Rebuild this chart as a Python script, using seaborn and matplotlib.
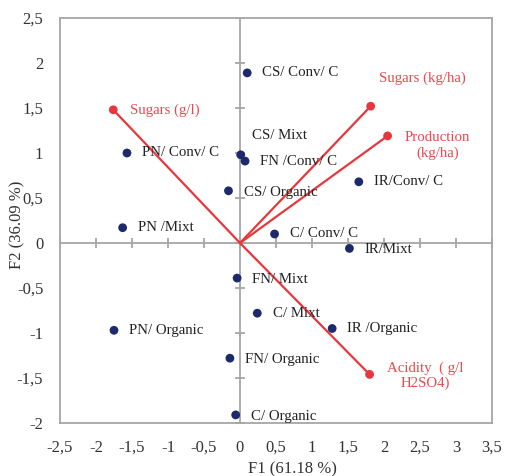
import numpy as np
import pandas as pd
import matplotlib
matplotlib.use("Agg")
import matplotlib.pyplot as plt
import seaborn as sns
from matplotlib.ticker import FuncFormatter

# Observations (F1, F2)
obs_labels = ["CS/ Conv/ C", "CS/ Mixt", "FN /Conv/ C", "CS/ Organic", "PN/ Conv/ C",
              "PN /Mixt", "IR/Conv/ C", "C/ Conv/ C", "IR/Mixt", "FN/ Mixt",
              "C/ Mixt", "IR /Organic", "FN/ Organic", "C/ Organic", "PN/ Organic"]
obs_f1 = [0.10, 0.01, 0.07, -0.16, -1.57, -1.63, 1.65, 0.48, 1.52, -0.04,
          0.24, 1.28, -0.14, -0.06, -1.75]
obs_f2 = [1.89, 0.98, 0.91, 0.58, 1.00, 0.17, 0.68, 0.10, -0.06, -0.39,
          -0.78, -0.95, -1.28, -1.91, -0.97]

# Variables (loadings)
var_labels = ["Sugars (g/l)", "Sugars (kg/ha)", "Production\n(kg/ha)", "Acidity  ( g/l\nH2SO4)"]
var_f1 = [-1.76, 1.815, 2.05, 1.80]
var_f2 = [1.48, 1.52, 1.19, -1.46]

x_ticks = [-2.5, -2, -1.5, -1, -0.5, 0, 0.5, 1, 1.5, 2, 2.5, 3, 3.5]
y_ticks = [-2, -1.5, -1, -0.5, 0, 0.5, 1, 1.5, 2, 2.5]
x_title = "F1 (61.18 %)"
y_title = "F2 (36.09 %)"

# label offsets in points (layout only)
obs_offsets = {
    "CS/ Conv/ C": (11, 0), "CS/ Mixt": (8, 14),
    "FN /Conv/ C": (11, 0), "CS/ Organic": (11, -1),
    "PN/ Conv/ C": (11, 0), "PN /Mixt": (11, 0),
    "IR/Conv/ C": (11, 0), "C/ Conv/ C": (11, 0),
    "IR/Mixt": (11, -1), "FN/ Mixt": (11, -1),
    "C/ Mixt": (11, 0), "IR /Organic": (11, 0),
    "FN/ Organic": (11, -1), "C/ Organic": (11, -1),
    "PN/ Organic": (11, 0),
}
var_offsets = [(12, 0, "left"), (6, 20, "left"), (36, -7, "center"), (40, -1, "center")]

sns.set_style("white")
plt.rcParams["font.family"] = ["Liberation Serif", "DejaVu Serif"]

navy = "#1c2a6b"
red = "#e8373c"
red_txt = "#ea4a4f"
grey = "#a6a6a6"

fig = plt.figure(figsize=(5.06, 4.76), dpi=100)
ax = fig.add_axes([60 / 506, 1 - 423 / 476, 432 / 506, 405 / 476])
ax.set_xlim(-2.5, 3.5)
ax.set_ylim(-2, 2.5)

# zero axes with crossing ticks
ax.axhline(0, color=grey, lw=1.3, zorder=1)
ax.axvline(0, color=grey, lw=1.3, zorder=1)
ax.plot(x_ticks, np.zeros(len(x_ticks)), linestyle="none", marker="|", ms=7, mew=1.3, color=grey, zorder=1)
ax.plot(np.zeros(len(y_ticks)), y_ticks, linestyle="none", marker="_", ms=7, mew=1.3, color=grey, zorder=1)

# vectors
for vx, vy in zip(var_f1, var_f2):
    ax.plot([0, vx], [0, vy], color=red, lw=1.6, zorder=2)
vdf = pd.DataFrame({"F1": var_f1, "F2": var_f2})
sns.scatterplot(data=vdf, x="F1", y="F2", ax=ax, color=red, s=40, edgecolor="none", zorder=3)

odf = pd.DataFrame({"F1": obs_f1, "F2": obs_f2, "label": obs_labels})
sns.scatterplot(data=odf, x="F1", y="F2", ax=ax, color=navy, s=40, edgecolor="none", zorder=4)

for lab, x, y in zip(obs_labels, obs_f1, obs_f2):
    dx, dy = obs_offsets[lab]
    ax.annotate(lab, (x, y), xytext=(dx, dy), textcoords="offset points",
                ha="left", va="center", fontsize=10.7, color="#222222", zorder=5)

for lab, x, y, (dx, dy, ha) in zip(var_labels, var_f1, var_f2, var_offsets):
    ax.annotate(lab, (x, y), xytext=(dx, dy), textcoords="offset points",
                ha=ha, va="center", multialignment="center", fontsize=10.7,
                color=red_txt, linespacing=1.2, zorder=5)

fmt = FuncFormatter(lambda v, p: ("%g" % v).replace(".", ","))
ax.set_xticks(x_ticks)
ax.set_yticks(y_ticks)
ax.xaxis.set_major_formatter(fmt)
ax.yaxis.set_major_formatter(fmt)
ax.tick_params(axis="both", length=0, labelsize=12, colors="#333333")
ax.tick_params(axis="y", pad=12)
ax.tick_params(axis="x", pad=12)
for s in ax.spines.values():
    s.set_color(grey)
    s.set_linewidth(1.3)
ax.set_xlabel(x_title, fontsize=12, color="#333333")
ax.set_ylabel(y_title, fontsize=12, color="#333333")
ax.xaxis.set_label_coords(0.539, -0.094)
ax.yaxis.set_label_coords(-0.081, 0.49)

fig.savefig("out.png", dpi=100)
